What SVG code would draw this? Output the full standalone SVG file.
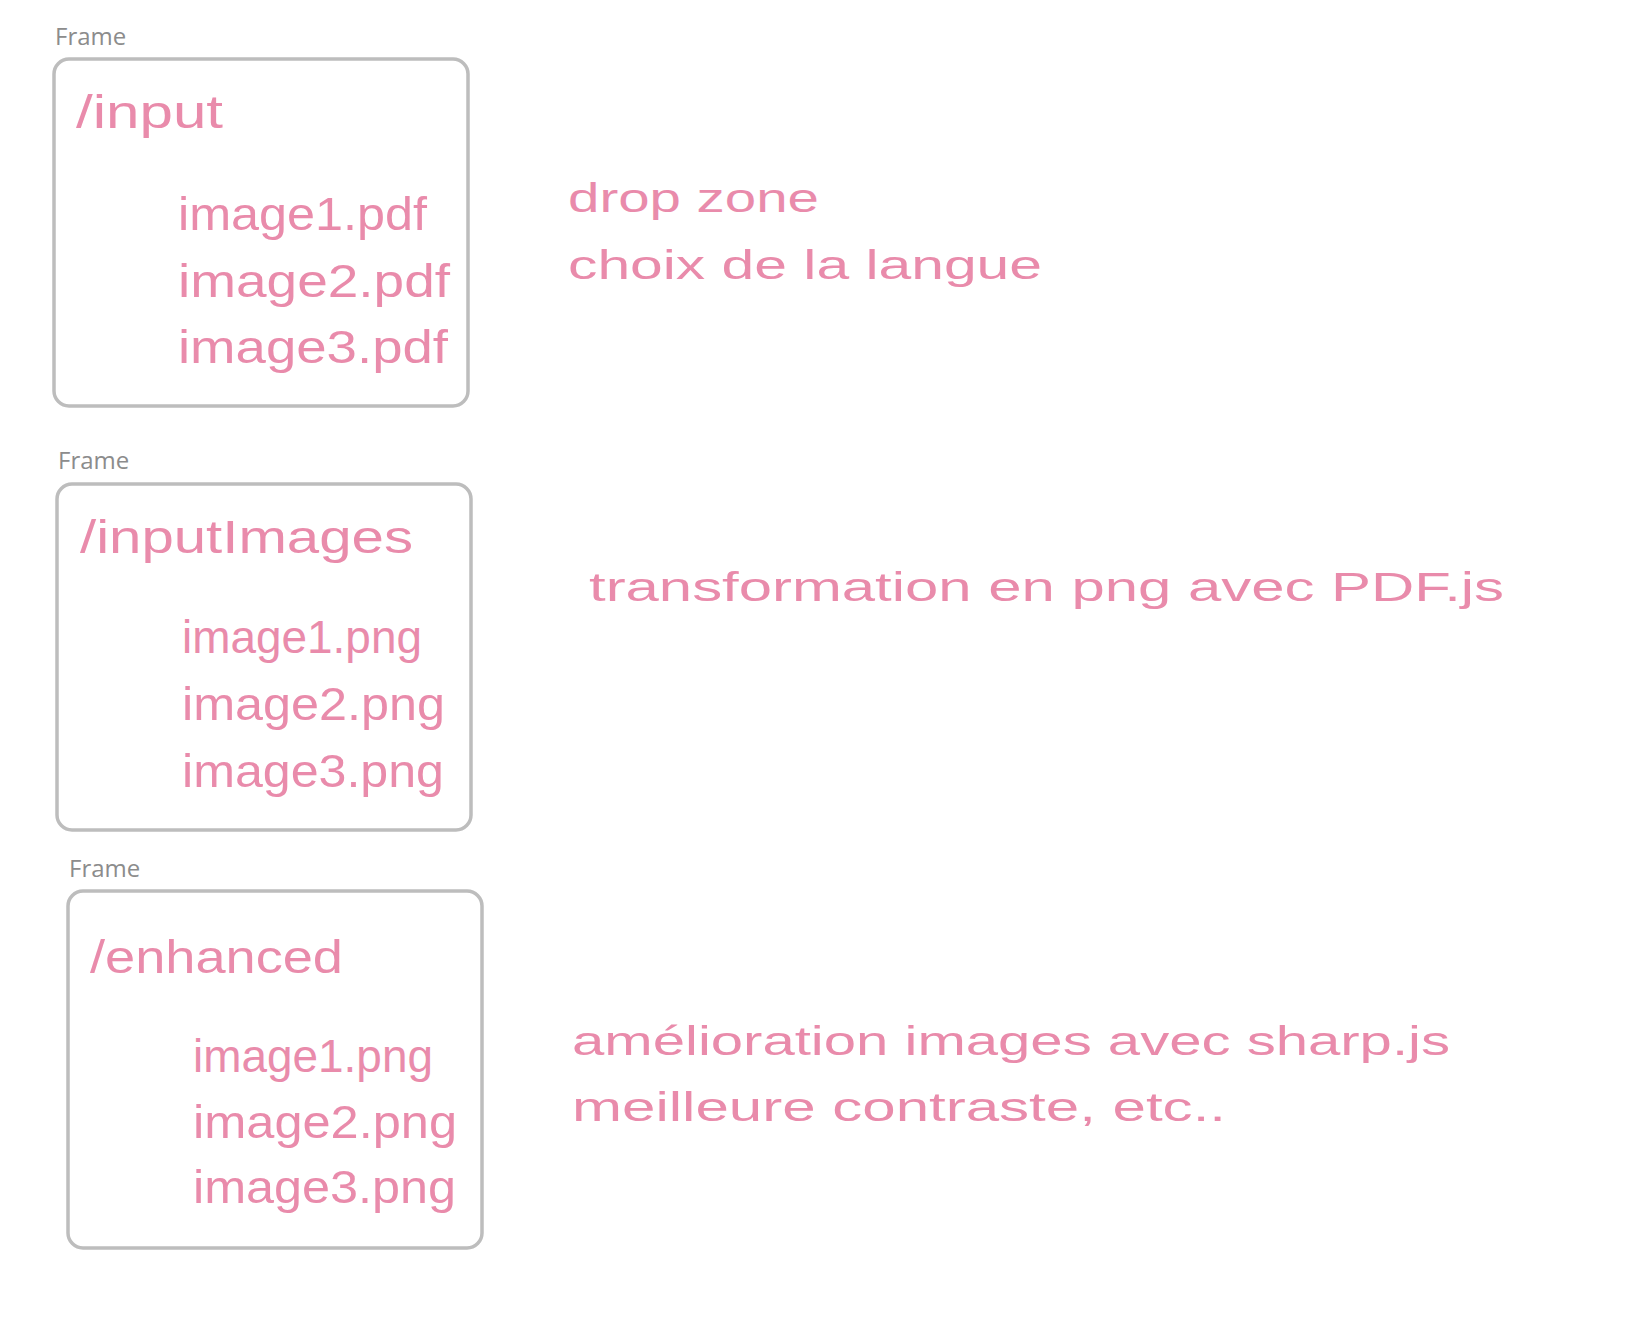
<svg xmlns="http://www.w3.org/2000/svg" width="1626" height="1326" viewBox="0 0 1626 1326">
<style>
.frame{fill:#ffffff;stroke:#bdbdbd;stroke-width:3.5}
.flabel{font-family:"Open Sans","Noto Sans",sans-serif;font-size:24px;fill:#8c8c8c}
.hand{font-family:"Liberation Sans","DejaVu Sans",sans-serif;fill:#e98bab}
.big{font-size:46px}
.side{font-size:40px}
</style>
<rect width="1626" height="1326" fill="#ffffff"/>
<g id="frame-input">
<text class="flabel" x="55" y="45">Frame</text>
<rect class="frame" x="54" y="59" width="414" height="347" rx="15"/>
<text class="hand big" x="76" y="128" textLength="147" lengthAdjust="spacingAndGlyphs">/input</text>
<text class="hand big" x="178" y="230" textLength="249" lengthAdjust="spacingAndGlyphs">image1.pdf</text>
<text class="hand big" x="178" y="297" textLength="272" lengthAdjust="spacingAndGlyphs">image2.pdf</text>
<text class="hand big" x="178" y="363" textLength="270" lengthAdjust="spacingAndGlyphs">image3.pdf</text>
</g>
<g id="frame-inputImages">
<text class="flabel" x="58" y="469">Frame</text>
<rect class="frame" x="57" y="484" width="414" height="346" rx="15"/>
<text class="hand big" x="80" y="553" textLength="333" lengthAdjust="spacingAndGlyphs">/inputImages</text>
<text class="hand big" x="182" y="653" textLength="240" lengthAdjust="spacingAndGlyphs">image1.png</text>
<text class="hand big" x="182" y="720" textLength="263" lengthAdjust="spacingAndGlyphs">image2.png</text>
<text class="hand big" x="182" y="787" textLength="262" lengthAdjust="spacingAndGlyphs">image3.png</text>
</g>
<g id="frame-enhanced">
<text class="flabel" x="69" y="877">Frame</text>
<rect class="frame" x="68" y="891" width="414" height="357" rx="15"/>
<text class="hand big" x="90" y="973" textLength="253" lengthAdjust="spacingAndGlyphs">/enhanced</text>
<text class="hand big" x="193" y="1072" textLength="240" lengthAdjust="spacingAndGlyphs">image1.png</text>
<text class="hand big" x="193" y="1138" textLength="264" lengthAdjust="spacingAndGlyphs">image2.png</text>
<text class="hand big" x="193" y="1203" textLength="263" lengthAdjust="spacingAndGlyphs">image3.png</text>
</g>
<g id="note-drop">
<text class="hand side" x="568" y="212" textLength="251" lengthAdjust="spacingAndGlyphs">drop zone</text>
<text class="hand side" x="568" y="279" textLength="474" lengthAdjust="spacingAndGlyphs">choix de la langue</text>
</g>
<g id="note-transform">
<text class="hand side" x="589" y="601" textLength="915" lengthAdjust="spacingAndGlyphs">transformation en png avec PDF.js</text>
</g>
<g id="note-enhance">
<text class="hand side" x="572" y="1055" textLength="878" lengthAdjust="spacingAndGlyphs">amélioration images avec sharp.js</text>
<text class="hand side" x="572" y="1121" textLength="654" lengthAdjust="spacingAndGlyphs">meilleure contraste, etc..</text>
</g>
<g id="connectors"></g>
</svg>
